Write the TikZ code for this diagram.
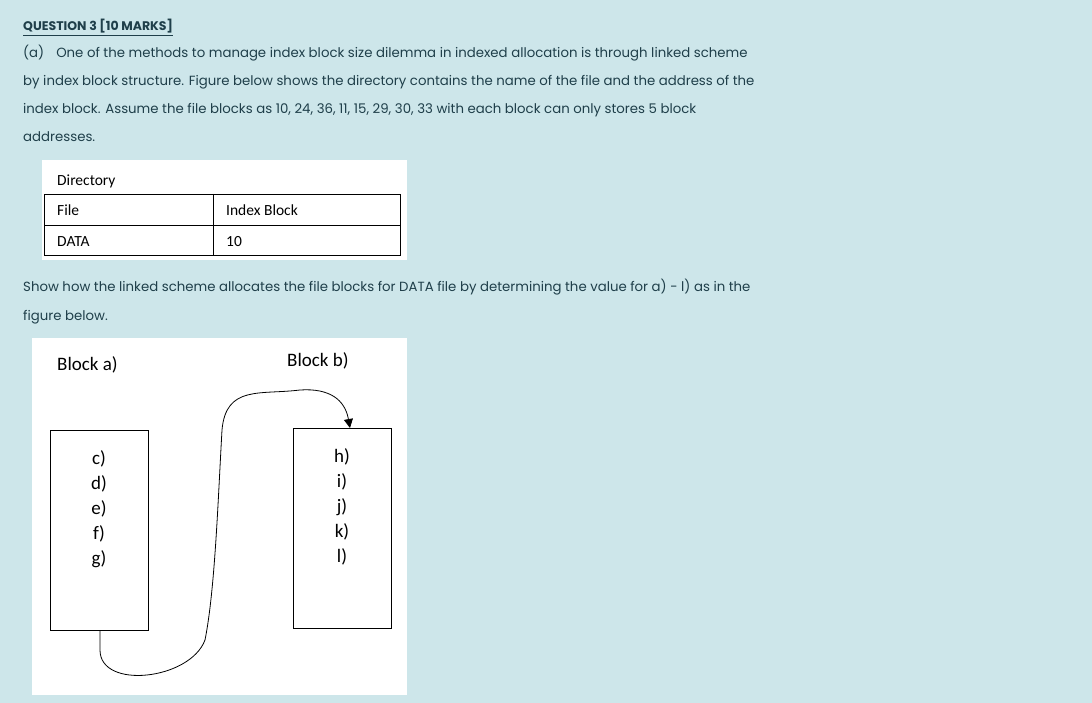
\documentclass[tikz,border=0pt]{standalone}
\usepackage{fontspec}
\usetikzlibrary{arrows.meta}
\setmainfont{Poppins}
\newfontfamily\calfont{Carlito}
\definecolor{bg}{HTML}{CDE6EA}
\definecolor{tx}{HTML}{1F3F4A}
\begin{document}
\begin{tikzpicture}[x=1pt,y=-1pt,
  q/.style={anchor=base west,inner sep=0,text=tx,font=\fontsize{13.3}{16}\selectfont},
  c/.style={anchor=base west,inner sep=0,font=\calfont\fontsize{15.5}{18}\selectfont},
  big/.style={anchor=base west,inner sep=0,font=\calfont\fontsize{19}{22}\selectfont}]
\fill[bg] (0,0) rectangle (1092,703);
\useasboundingbox (0,0) rectangle (1092,703);
\node[q,font=\bfseries\fontsize{12.5}{15}\selectfont] (t) at (23,31) {\underline{QUESTION 3 [10 MARKS]}};
\node[q] (l1) at (23,58) {(a)\hspace{12pt}One of the methods to manage index block size dilemma in indexed allocation is through linked scheme};
\node[q] (l2) at (23,86) {by index block structure. Figure below shows the directory contains the name of the file and the address of the};
\node[q] (l3) at (23,114) {index block. Assume the file blocks as 10, 24, 36, 11, 15, 29, 30, 33 with each block can only stores 5 block};
\node[q] (l4) at (23,142) {addresses.};
\node[q] (l5) at (23,292) {Show how the linked scheme allocates the file blocks for DATA file by determining the value for a) - l) as in the};
\node[q] (l6) at (23,320) {figure below.};
\fill[white] (42,160) rectangle (407,260);
\node[c] (dir) at (57,186) {Directory};
\draw (44,194) rectangle (400,255);
\draw (44,225) -- (400,225);
\draw (213,194) -- (213,255);
\node[c] (f) at (57,216) {File};
\node[c] (ib) at (226,216) {Index Block};
\node[c] (d) at (57,247) {DATA};
\node[c] (ten) at (226,247) {10};
\fill[white] (32,338) rectangle (407,695);
\node[big] (ba) at (57,370) {Block a)};
\node[big] (bb) at (287,366) {Block b)};
\draw[thick] (50,430) rectangle (148,630);
\draw[thick] (293,428) rectangle (391,628);
\node[big,anchor=north,align=center,font=\calfont\fontsize{19}{25}\selectfont] (lv) at (99,450) {c)\\d)\\e)\\f)\\g)};
\node[big,anchor=north,align=center,font=\calfont\fontsize{19}{25}\selectfont] (rv) at (342,448) {h)\\i)\\j)\\k)\\l)};
\coordinate (s) at (100,630);
\coordinate (e) at (350,428);
\draw[thick,-{Triangle[length=9pt,width=9pt]}] (s) -- (100,650) .. controls (100,690) and (190,680) .. (205,640)
  .. controls (215,590) and (218,500) .. (222,430) .. controls (226,385) and (260,395) .. (300,390)
  .. controls (330,388) and (345,400) .. (e);
\end{tikzpicture}
\end{document}
